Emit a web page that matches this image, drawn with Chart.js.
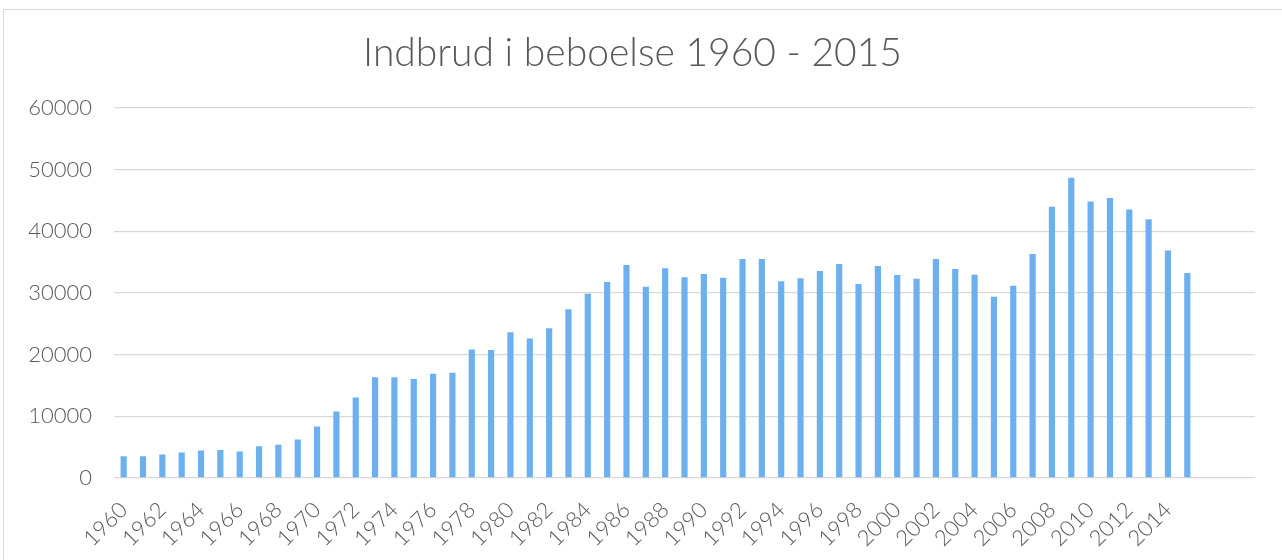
<!DOCTYPE html>
<html>
<head>
<meta charset="utf-8">
<script src="https://cdn.jsdelivr.net/npm/chart.js@4"></script>
<style>
    html, body { margin: 0; padding: 0; background: #ffffff; }
    #wrap { position: relative; width: 1282px; height: 560px; }
    #frame {
        position: absolute; left: 3px; top: 9px; width: 1290px; height: 560px;
        border: 1px solid #d9d9d9; box-sizing: border-box; pointer-events: none;
    }
    canvas { position: absolute; left: 0; top: 0; }
</style>
</head>
<body>
<div id="wrap">
    <canvas id="chart" width="1282" height="560"></canvas>
    <div id="frame"></div>
</div>
<script>
// 데이터: 연도별 주거 침입 건수
const years = [
    '1960', '1961', '1962', '1963', '1964', '1965', '1966', '1967', '1968', '1969',
    '1970', '1971', '1972', '1973', '1974', '1975', '1976', '1977', '1978', '1979',
    '1980', '1981', '1982', '1983', '1984', '1985', '1986', '1987', '1988', '1989',
    '1990', '1991', '1992', '1993', '1994', '1995', '1996', '1997', '1998', '1999',
    '2000', '2001', '2002', '2003', '2004', '2005', '2006', '2007', '2008', '2009',
    '2010', '2011', '2012', '2013', '2014', '2015',
    '', '', ''   // 엑셀 원본의 빈 행
];
const burglaries = [
    3520, 3520, 3800, 4120, 4440, 4550, 4280, 5150, 5370, 6230,
    8350, 10790, 13060, 16310, 16310, 16040, 16910, 17070, 20810, 20760,
    23630, 22600, 24280, 27370, 29860, 31760, 34530, 31000, 33980, 32520,
    33060, 32470, 35500, 35500, 31870, 32360, 33550, 34690, 31440, 34360,
    32900, 32300, 35500, 33880, 32950, 29380, 31170, 36310, 43960, 48670,
    44820, 45370, 43520, 41950, 36860, 33220,
    null, null, null
];
const yTicks = [0, 10000, 20000, 30000, 40000, 50000, 60000];

const TEXT = '#595959';
const FONT = 'Lato, "Open Sans", sans-serif';

const ctx = document.getElementById('chart').getContext('2d');

new Chart(ctx, {
    type: 'bar',
    data: {
        labels: years,
        datasets: [{
            label: 'Indbrud i beboelse',
            data: burglaries,
            backgroundColor: '#6cb0ef',
            borderWidth: 0,
            barPercentage: 0.32,
            categoryPercentage: 1.0,
        }],
    },
    options: {
        responsive: false,
        animation: false,
        layout: {
            padding: { left: 10, right: 27, top: 0, bottom: 0 },
        },
        plugins: {
            legend: { display: false },
            tooltip: { enabled: false },
            title: {
                display: true,
                text: 'Indbrud i beboelse 1960 - 2015',
                color: TEXT,
                font: { family: FONT, size: 39, weight: 300 },
                padding: { top: 30, bottom: 31 },
            },
        },
        scales: {
            x: {
                grid: { display: false },
                border: { display: false },
                ticks: {
                    autoSkip: false,
                    minRotation: 45,
                    maxRotation: 45,
                    color: TEXT,
                    font: { family: FONT, size: 22, weight: 300 },
                    padding: 11,
                    callback: function (value, index) {
                        return index % 2 === 0 ? years[index] : '';
                    },
                },
                afterFit: function (scale) {
                    scale.height = 82;
                },
            },
            y: {
                min: 0,
                max: 60000,
                afterBuildTicks: function (scale) {
                    scale.ticks = yTicks.map(v => ({ value: v }));
                },
                grid: {
                    color: '#d9d9d9',
                    lineWidth: 1.3,
                    drawTicks: false,
                },
                border: { display: false },
                ticks: {
                    color: TEXT,
                    font: { family: FONT, size: 22, weight: 300 },
                    padding: 22,
                    callback: function (value) {
                        return String(value);
                    },
                },
                afterFit: function (scale) {
                    scale.width = 104;
                },
            },
        },
    },
});
</script>
</body>
</html>
